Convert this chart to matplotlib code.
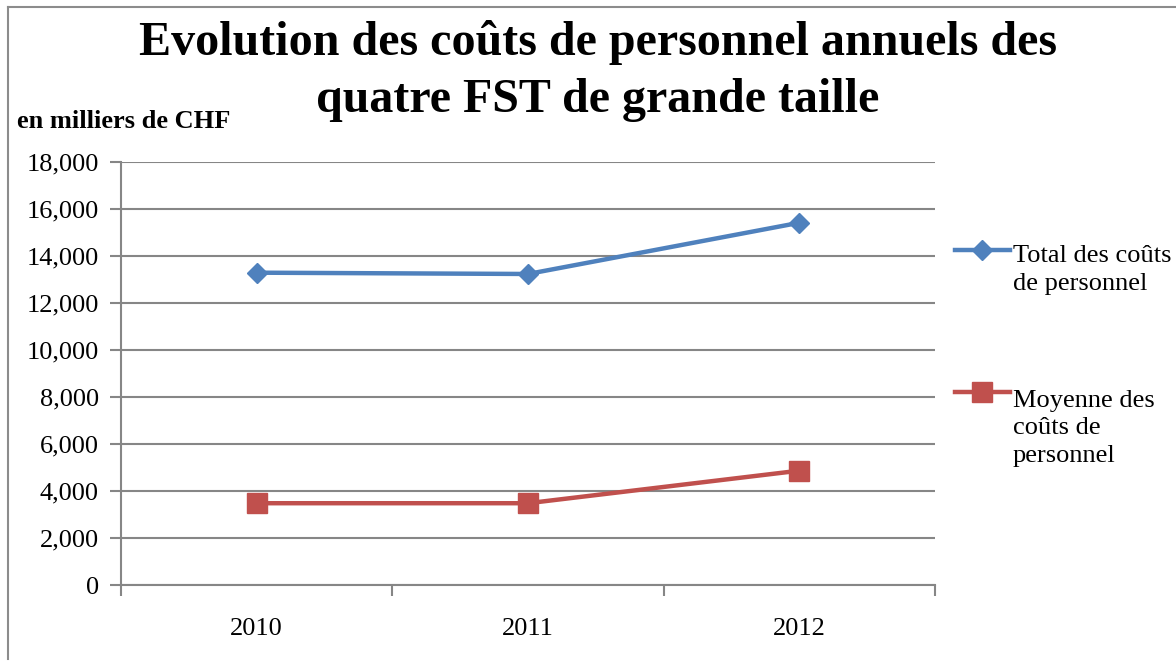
import matplotlib.pyplot as plt
from matplotlib.lines import Line2D
from matplotlib.ticker import FuncFormatter, FixedLocator

plt.rcParams['font.family'] = ['Liberation Serif', 'DejaVu Serif']

years = ['2010', '2011', '2012']
total = [13290, 13235, 15415]
moyenne = [3480, 3480, 4865]

W, H = 1176, 661
fig = plt.figure(figsize=(W / 100, H / 100), dpi=100)
ax = fig.add_axes([121 / W, 1 - 585 / H, (935 - 121) / W, (585 - 162) / H])

blue = '#4F81BD'
red = '#C0504D'
grid = '#868686'

x = range(len(years))
ax.plot(x, total, color=blue, lw=3.2, marker='D', ms=10.5, mec=blue, zorder=3)
ax.plot(x, moyenne, color=red, lw=3.2, marker='s', ms=14, mec=red, zorder=3)

ax.set_xlim(-0.5, 2.5)
ax.set_ylim(0, 18000)
ax.set_yticks(range(0, 18001, 2000))
ax.yaxis.set_major_formatter(FuncFormatter(lambda v, p: f'{int(v):,}'))
ax.set_xticks(list(x))
ax.set_xticklabels(years)
ax.xaxis.set_minor_locator(FixedLocator([-0.5, 0.5, 1.5, 2.5]))
ax.tick_params(axis='x', which='major', length=0, labelsize=19, pad=24)
ax.tick_params(axis='x', which='minor', length=8, width=1.5, color=grid, direction='out')
ax.tick_params(axis='y', length=8, width=1.5, color=grid, labelsize=19, pad=8)
ax.grid(axis='y', color=grid, lw=1.5)
ax.set_axisbelow(True)
for s in ['top', 'right']:
    ax.spines[s].set_visible(False)
for s in ['left', 'bottom']:
    ax.spines[s].set_color(grid)
    ax.spines[s].set_linewidth(1.5)

def fx(px):
    return px / W

def fy(py):
    return 1 - py / H

# title, one text per line
fig.text(fx(598), fy(55), 'Evolution des coûts de personnel annuels des',
         ha='center', va='baseline', fontsize=34.6, fontweight='bold')
fig.text(fx(598), fy(112), 'quatre FST de grande taille',
         ha='center', va='baseline', fontsize=34.6, fontweight='bold')
fig.text(fx(17), fy(128), 'en milliers de CHF', ha='left', va='baseline',
         fontsize=19, fontweight='bold')

# legend
fig.add_artist(Line2D([fx(955), fx(1010)], [fy(250), fy(250)], color=blue, lw=3.2,
                      transform=fig.transFigure))
fig.add_artist(Line2D([fx(982)], [fy(250)], color=blue, marker='D', ms=10.5,
                      transform=fig.transFigure))
fig.text(fx(1013), fy(290), 'Total des coûts\nde personnel', ha='left', va='baseline',
         fontsize=19, linespacing=1.33)
fig.add_artist(Line2D([fx(955), fx(1010)], [fy(392), fy(392)], color=red, lw=3.2,
                      transform=fig.transFigure))
fig.add_artist(Line2D([fx(982)], [fy(392)], color=red, marker='s', ms=14,
                      transform=fig.transFigure))
fig.text(fx(1013), fy(462), 'Moyenne des\ncoûts de\npersonnel', ha='left', va='baseline',
         fontsize=19, linespacing=1.33)

# chart border
fig.add_artist(Line2D([fx(8), fx(8)], [fy(7), fy(659)], color='#8c8c8c', lw=1.5,
                      transform=fig.transFigure))
fig.add_artist(Line2D([fx(8), fx(1176)], [fy(7), fy(7)], color='#8c8c8c', lw=1.5,
                      transform=fig.transFigure))

fig.savefig('out.png', dpi=100)
